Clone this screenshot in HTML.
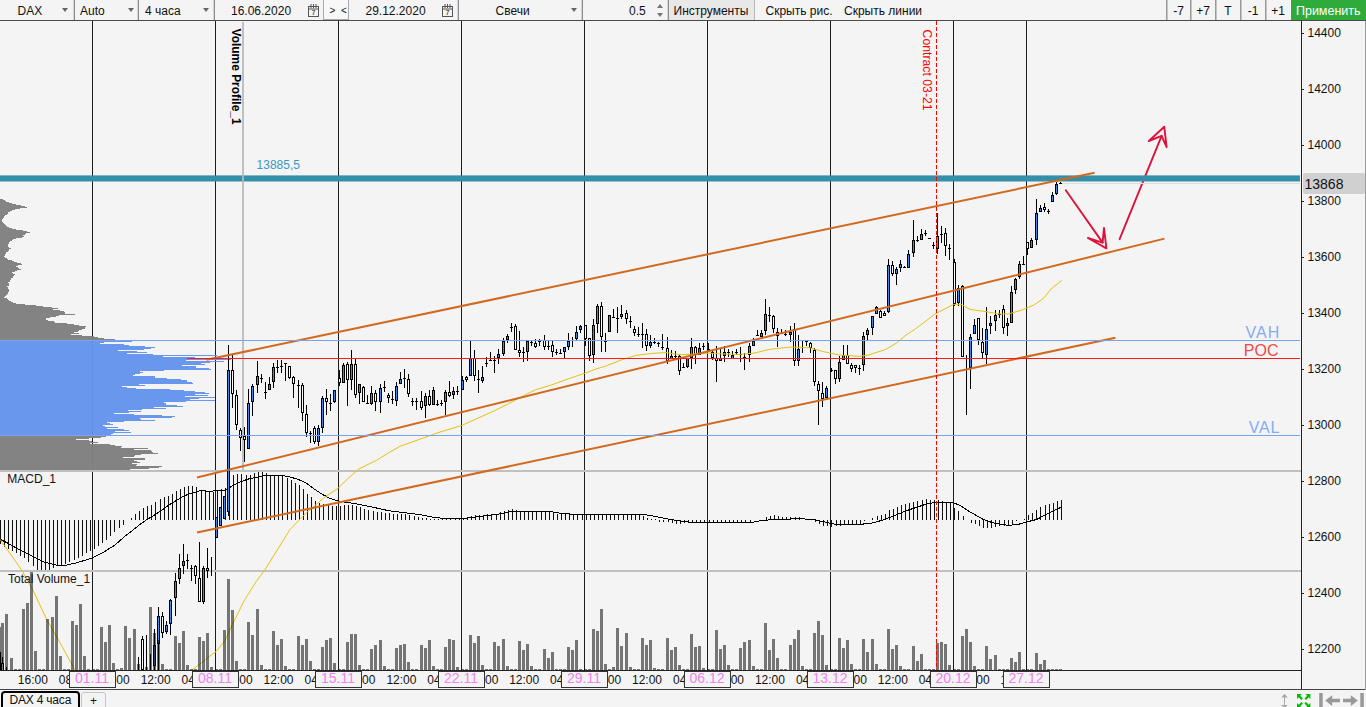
<!DOCTYPE html>
<html lang="ru"><head><meta charset="utf-8"><title>DAX 4 часа</title>
<style>
html,body{margin:0;padding:0}
body{width:1366px;height:707px;overflow:hidden;background:#f4f4f4;font-family:"Liberation Sans",Arial,sans-serif;font-size:12px;color:#111;position:relative}
#chart{position:absolute;left:0;top:0}
#tb{position:absolute;left:0;top:0;width:1366px;height:20px;border-bottom:1px solid #4a4a4a;background:#f4f4f4;z-index:2}
#tb span{position:absolute;top:0;height:20px;line-height:23px;white-space:nowrap}
#tb i{position:absolute;top:0;width:1px;height:20px;background:#8c8c8c;box-shadow:-1px 0 0 #d4d4d4}
#tb b{position:absolute;top:8px;width:0;height:0;border-left:3px solid transparent;border-right:3px solid transparent;border-top:4px solid #666}
#tb .btn{text-align:center;border-left:1px solid #9a9a9a;box-shadow:inset 1px 0 0 #c4c4c4}
#tabs{position:absolute;left:0;top:690px;width:1366px;height:17px}
#tabs .t1{position:absolute;left:0.8px;top:1px;width:75px;letter-spacing:-0.2px;height:20px;border:2px solid #000;border-radius:4px;line-height:14px;text-align:center;font-size:12px}
#tabs .t2{position:absolute;left:81px;top:2px;width:23px;height:20px;border:1px solid #c4c4c4;border-radius:3px;line-height:16px;text-align:center;font-size:12px}
</style></head>
<body>
<svg id="chart" width="1366" height="707" viewBox="0 0 1366 707">
<defs><clipPath id="cp"><rect x="0" y="21" width="1301" height="649"/></clipPath></defs>
<g shape-rendering="crispEdges" fill="#1c1c1c">
<rect x="92" y="21" width="1" height="650"/>
<rect x="215" y="21" width="1" height="650"/>
<rect x="338" y="21" width="1" height="650"/>
<rect x="461" y="21" width="1" height="650"/>
<rect x="584" y="21" width="1" height="650"/>
<rect x="707" y="21" width="1" height="650"/>
<rect x="830" y="21" width="1" height="650"/>
<rect x="953" y="21" width="1" height="650"/>
<rect x="1026" y="21" width="1" height="650"/>
</g>
<g shape-rendering="crispEdges" fill="#c0c0c0">
<rect x="0" y="470" width="1301" height="2"/>
<rect x="0" y="570" width="1301" height="2"/>
<rect x="242" y="22" width="2" height="448"/>
</g>
<g shape-rendering="crispEdges" opacity="0.97">
<path fill="#808080" d="M0 199 h3 v1 H0zM0 200 h5 v1 H0zM0 201 h6 v1 H0zM0 202 h9 v1 H0zM0 203 h12 v1 H0zM0 204 h16 v1 H0zM0 205 h21 v1 H0zM0 206 h25 v1 H0zM0 207 h27 v1 H0zM0 208 h20 v1 H0zM0 209 h15 v1 H0zM0 210 h12 v1 H0zM0 211 h10 v1 H0zM0 212 h8 v1 H0zM0 213 h8 v1 H0zM0 214 h7 v1 H0zM0 215 h5 v1 H0zM0 216 h4 v1 H0zM0 217 h4 v1 H0zM0 218 h3 v1 H0zM0 219 h2 v1 H0zM0 220 h2 v1 H0zM0 221 h2 v1 H0zM0 222 h3 v1 H0zM0 223 h4 v1 H0zM0 224 h5 v1 H0zM0 225 h6 v1 H0zM0 226 h7 v1 H0zM0 227 h9 v1 H0zM0 228 h12 v1 H0zM0 229 h16 v1 H0zM0 230 h23 v1 H0zM0 231 h27 v1 H0zM0 232 h30 v1 H0zM0 233 h26 v1 H0zM0 234 h25 v1 H0zM0 235 h23 v1 H0zM0 236 h24 v1 H0zM0 237 h22 v1 H0zM0 238 h16 v1 H0zM0 239 h13 v1 H0zM0 240 h12 v1 H0zM0 241 h10 v1 H0zM0 242 h9 v1 H0zM0 243 h9 v1 H0zM0 244 h8 v1 H0zM0 245 h8 v1 H0zM0 246 h8 v1 H0zM0 247 h9 v1 H0zM0 248 h11 v1 H0zM0 249 h9 v1 H0zM0 250 h9 v1 H0zM0 251 h8 v1 H0zM0 252 h6 v1 H0zM0 253 h6 v1 H0zM0 254 h5 v1 H0zM0 255 h5 v1 H0zM0 256 h4 v1 H0zM0 257 h5 v1 H0zM0 258 h7 v1 H0zM0 259 h8 v1 H0zM0 260 h12 v1 H0zM0 261 h14 v1 H0zM0 262 h17 v1 H0zM0 263 h21 v1 H0zM0 264 h22 v1 H0zM0 265 h18 v1 H0zM0 266 h16 v1 H0zM0 267 h18 v1 H0zM0 268 h19 v1 H0zM0 269 h21 v1 H0zM0 270 h17 v1 H0zM0 271 h15 v1 H0zM0 272 h12 v1 H0zM0 273 h13 v1 H0zM0 274 h15 v1 H0zM0 275 h14 v1 H0zM0 276 h13 v1 H0zM0 277 h13 v1 H0zM0 278 h11 v1 H0zM0 279 h11 v1 H0zM0 280 h10 v1 H0zM0 281 h10 v1 H0zM0 282 h8 v1 H0zM0 283 h9 v1 H0zM0 284 h9 v1 H0zM0 285 h9 v1 H0zM0 286 h7 v1 H0zM0 287 h8 v1 H0zM0 288 h8 v1 H0zM0 289 h9 v1 H0zM0 290 h9 v1 H0zM0 291 h9 v1 H0zM0 292 h8 v1 H0zM0 293 h8 v1 H0zM0 294 h7 v1 H0zM0 295 h6 v1 H0zM0 296 h5 v1 H0zM0 297 h4 v1 H0zM0 298 h7 v1 H0zM0 299 h8 v1 H0zM0 300 h9 v1 H0zM0 301 h11 v1 H0zM0 302 h13 v1 H0zM0 303 h16 v1 H0zM0 304 h25 v1 H0zM0 305 h36 v1 H0zM0 306 h43 v1 H0zM0 307 h52 v1 H0zM0 308 h58 v1 H0zM0 309 h53 v1 H0zM0 310 h60 v1 H0zM0 311 h64 v1 H0zM0 312 h65 v1 H0zM0 313 h65 v1 H0zM0 314 h75 v1 H0zM0 315 h59 v1 H0zM0 316 h56 v1 H0zM0 317 h50 v1 H0zM0 318 h46 v1 H0zM0 319 h46 v1 H0zM0 320 h48 v1 H0zM0 321 h54 v1 H0zM0 322 h55 v1 H0zM0 323 h67 v1 H0zM0 324 h74 v1 H0zM0 325 h79 v1 H0zM0 326 h86 v1 H0zM0 327 h85 v1 H0zM0 328 h85 v1 H0zM0 329 h82 v1 H0zM0 330 h79 v1 H0zM0 331 h78 v1 H0zM0 332 h74 v1 H0zM0 333 h79 v1 H0zM0 334 h71 v1 H0zM0 335 h82 v1 H0zM0 336 h94 v1 H0zM0 337 h98 v1 H0zM0 338 h104 v1 H0zM0 339 h115 v1 H0z"/>
<path fill="#6495ed" d="M0 341 h132 v1 H0zM0 342 h104 v1 H0zM0 343 h100 v1 H0zM0 344 h124 v1 H0zM0 345 h129 v1 H0zM0 346 h145 v1 H0zM0 347 h155 v1 H0zM0 348 h151 v1 H0zM0 349 h144 v1 H0zM0 350 h118 v1 H0zM0 351 h137 v1 H0zM0 352 h147 v1 H0zM0 353 h127 v1 H0zM0 354 h153 v1 H0zM0 355 h217 v1 H0zM0 356 h163 v1 H0zM0 357 h195 v1 H0zM0 358 h200 v1 H0zM0 359 h231 v1 H0zM0 360 h186 v1 H0zM0 361 h224 v1 H0zM0 362 h210 v1 H0zM0 363 h201 v1 H0zM0 364 h205 v1 H0zM0 365 h182 v1 H0zM0 366 h196 v1 H0zM0 367 h196 v1 H0zM0 368 h209 v1 H0zM0 369 h211 v1 H0zM0 370 h164 v1 H0zM0 371 h140 v1 H0zM0 372 h143 v1 H0zM0 373 h140 v1 H0zM0 374 h135 v1 H0zM0 375 h133 v1 H0zM0 376 h155 v1 H0zM0 377 h155 v1 H0zM0 378 h167 v1 H0zM0 379 h181 v1 H0zM0 380 h187 v1 H0zM0 381 h187 v1 H0zM0 382 h192 v1 H0zM0 383 h193 v1 H0zM0 384 h139 v1 H0zM0 385 h145 v1 H0zM0 386 h122 v1 H0zM0 387 h127 v1 H0zM0 388 h136 v1 H0zM0 389 h170 v1 H0zM0 390 h184 v1 H0zM0 391 h195 v1 H0zM0 392 h205 v1 H0zM0 393 h209 v1 H0zM0 394 h195 v1 H0zM0 395 h208 v1 H0zM0 396 h185 v1 H0zM0 397 h215 v1 H0zM0 398 h199 v1 H0zM0 399 h190 v1 H0zM0 400 h215 v1 H0zM0 401 h186 v1 H0zM0 402 h164 v1 H0zM0 403 h166 v1 H0zM0 404 h166 v1 H0zM0 405 h177 v1 H0zM0 406 h183 v1 H0zM0 407 h154 v1 H0zM0 408 h166 v1 H0zM0 409 h142 v1 H0zM0 410 h128 v1 H0zM0 411 h141 v1 H0zM0 412 h129 v1 H0zM0 413 h114 v1 H0zM0 414 h134 v1 H0zM0 415 h162 v1 H0zM0 416 h175 v1 H0zM0 417 h172 v1 H0zM0 418 h140 v1 H0zM0 419 h141 v1 H0zM0 420 h155 v1 H0zM0 421 h124 v1 H0zM0 422 h107 v1 H0zM0 423 h110 v1 H0zM0 424 h113 v1 H0zM0 425 h103 v1 H0zM0 426 h105 v1 H0zM0 427 h118 v1 H0zM0 428 h107 v1 H0zM0 429 h124 v1 H0zM0 430 h129 v1 H0zM0 431 h115 v1 H0zM0 432 h131 v1 H0zM0 433 h113 v1 H0zM0 434 h111 v1 H0zM0 435 h122 v1 H0z"/>
<path fill="#808080" d="M0 436 h106 v1 H0zM0 437 h101 v1 H0zM0 438 h89 v1 H0zM0 439 h76 v1 H0zM0 440 h89 v1 H0zM0 441 h92 v1 H0zM0 442 h98 v1 H0zM0 443 h90 v1 H0zM0 444 h110 v1 H0zM0 445 h115 v1 H0zM0 446 h122 v1 H0zM0 447 h121 v1 H0zM0 448 h148 v1 H0zM0 449 h134 v1 H0zM0 450 h151 v1 H0zM0 451 h152 v1 H0zM0 452 h153 v1 H0zM0 453 h158 v1 H0zM0 454 h141 v1 H0zM0 455 h135 v1 H0zM0 456 h134 v1 H0zM0 457 h123 v1 H0zM0 458 h145 v1 H0zM0 459 h145 v1 H0zM0 460 h134 v1 H0zM0 461 h137 v1 H0zM0 462 h140 v1 H0zM0 463 h132 v1 H0zM0 464 h137 v1 H0zM0 465 h136 v1 H0zM0 466 h162 v1 H0zM0 467 h159 v1 H0zM0 468 h149 v1 H0zM0 469 h130 v1 H0z"/>
</g>
<g clip-path="url(#cp)">
<g shape-rendering="crispEdges" fill="#111">
<path d="M0 520 h1 V544 h-1zM4 520 h1 V547 h-1zM8 520 h1 V549 h-1zM12 520 h1 V551 h-1zM16 520 h1 V553 h-1zM20 520 h1 V556 h-1zM24 520 h1 V558 h-1zM28 520 h1 V562 h-1zM33 520 h1 V566 h-1zM37 520 h1 V570 h-1zM41 520 h1 V570 h-1zM45 520 h1 V570 h-1zM49 520 h1 V570 h-1zM53 520 h1 V568 h-1zM57 520 h1 V566 h-1zM61 520 h1 V565 h-1zM65 520 h1 V564 h-1zM69 520 h1 V562 h-1zM74 520 h1 V560 h-1zM78 520 h1 V558 h-1zM82 520 h1 V556 h-1zM86 520 h1 V553 h-1zM90 520 h1 V551 h-1zM94 520 h1 V549 h-1zM98 520 h1 V546 h-1zM102 520 h1 V543 h-1zM106 520 h1 V540 h-1zM110 520 h1 V536 h-1zM114 520 h1 V532 h-1zM119 520 h1 V528 h-1zM123 520 h1 V525 h-1zM131 518 h1 V520 h-1zM135 514 h1 V520 h-1zM139 511 h1 V520 h-1zM143 508 h1 V520 h-1zM147 506 h1 V520 h-1zM151 505 h1 V520 h-1zM155 502 h1 V520 h-1zM160 499 h1 V520 h-1zM164 497 h1 V520 h-1zM168 496 h1 V520 h-1zM172 494 h1 V520 h-1zM176 491 h1 V520 h-1zM180 489 h1 V520 h-1zM184 487 h1 V520 h-1zM188 486 h1 V520 h-1zM192 486 h1 V520 h-1zM196 487 h1 V520 h-1zM201 490 h1 V520 h-1zM205 490 h1 V520 h-1zM209 492 h1 V520 h-1zM213 492 h1 V520 h-1zM217 490 h1 V520 h-1zM221 489 h1 V520 h-1zM225 488 h1 V520 h-1zM229 481 h1 V520 h-1zM233 475 h1 V520 h-1zM237 474 h1 V520 h-1zM241 474 h1 V520 h-1zM246 475 h1 V520 h-1zM250 475 h1 V520 h-1zM254 473 h1 V520 h-1zM258 472 h1 V520 h-1zM262 472 h1 V520 h-1zM266 473 h1 V520 h-1zM270 475 h1 V520 h-1zM274 475 h1 V520 h-1zM278 475 h1 V520 h-1zM282 476 h1 V520 h-1zM287 478 h1 V520 h-1zM291 480 h1 V520 h-1zM295 483 h1 V520 h-1zM299 485 h1 V520 h-1zM303 489 h1 V520 h-1zM307 494 h1 V520 h-1zM311 497 h1 V520 h-1zM315 501 h1 V520 h-1zM319 503 h1 V520 h-1zM323 504 h1 V520 h-1zM328 505 h1 V520 h-1zM332 506 h1 V520 h-1zM336 506 h1 V520 h-1zM340 506 h1 V520 h-1zM344 505 h1 V520 h-1zM348 505 h1 V520 h-1zM352 505 h1 V520 h-1zM356 506 h1 V520 h-1zM360 507 h1 V520 h-1zM364 509 h1 V520 h-1zM368 510 h1 V520 h-1zM373 511 h1 V520 h-1zM377 512 h1 V520 h-1zM381 512 h1 V520 h-1zM385 513 h1 V520 h-1zM389 513 h1 V520 h-1zM393 514 h1 V520 h-1zM397 514 h1 V520 h-1zM401 514 h1 V520 h-1zM405 514 h1 V520 h-1zM409 515 h1 V520 h-1zM414 516 h1 V520 h-1zM418 517 h1 V520 h-1zM422 518 h1 V520 h-1zM426 518 h1 V520 h-1zM430 519 h1 V520 h-1zM434 519 h1 V520 h-1zM438 519 h1 V520 h-1zM442 519 h1 V520 h-1zM446 519 h1 V520 h-1zM450 519 h1 V520 h-1zM455 519 h1 V520 h-1zM459 519 h1 V520 h-1zM463 519 h1 V520 h-1zM467 517 h1 V520 h-1zM471 516 h1 V520 h-1zM475 515 h1 V520 h-1zM479 515 h1 V520 h-1zM483 515 h1 V520 h-1zM487 514 h1 V520 h-1zM491 514 h1 V520 h-1zM496 514 h1 V520 h-1zM500 512 h1 V520 h-1zM504 511 h1 V520 h-1zM508 510 h1 V520 h-1zM512 509 h1 V520 h-1zM516 510 h1 V520 h-1zM520 511 h1 V520 h-1zM524 511 h1 V520 h-1zM528 511 h1 V520 h-1zM532 512 h1 V520 h-1zM536 512 h1 V520 h-1zM541 512 h1 V520 h-1zM545 512 h1 V520 h-1zM549 512 h1 V520 h-1zM553 513 h1 V520 h-1zM557 514 h1 V520 h-1zM561 514 h1 V520 h-1zM565 514 h1 V520 h-1zM569 514 h1 V520 h-1zM573 514 h1 V520 h-1zM577 514 h1 V520 h-1zM582 514 h1 V520 h-1zM586 514 h1 V520 h-1zM590 515 h1 V520 h-1zM594 515 h1 V520 h-1zM598 515 h1 V520 h-1zM602 514 h1 V520 h-1zM606 514 h1 V520 h-1zM610 514 h1 V520 h-1zM614 514 h1 V520 h-1zM618 514 h1 V520 h-1zM623 514 h1 V520 h-1zM627 514 h1 V520 h-1zM631 514 h1 V520 h-1zM635 514 h1 V520 h-1zM639 514 h1 V520 h-1zM643 516 h1 V520 h-1zM647 518 h1 V520 h-1zM651 519 h1 V520 h-1zM655 519 h1 V520 h-1zM659 520 h1 V522 h-1zM663 520 h1 V522 h-1zM668 520 h1 V522 h-1zM672 520 h1 V523 h-1zM676 520 h1 V524 h-1zM680 520 h1 V524 h-1zM684 520 h1 V523 h-1zM688 520 h1 V522 h-1zM692 520 h1 V522 h-1zM696 520 h1 V522 h-1zM700 520 h1 V522 h-1zM704 520 h1 V522 h-1zM709 520 h1 V522 h-1zM713 520 h1 V522 h-1zM717 520 h1 V522 h-1zM721 520 h1 V522 h-1zM725 520 h1 V522 h-1zM729 520 h1 V522 h-1zM733 520 h1 V522 h-1zM737 520 h1 V522 h-1zM741 520 h1 V522 h-1zM745 520 h1 V522 h-1zM750 520 h1 V522 h-1zM766 517 h1 V520 h-1zM770 516 h1 V520 h-1zM774 515 h1 V520 h-1zM778 516 h1 V520 h-1zM782 517 h1 V520 h-1zM786 517 h1 V520 h-1zM790 517 h1 V520 h-1zM795 517 h1 V520 h-1zM799 517 h1 V520 h-1zM815 520 h1 V522 h-1zM819 520 h1 V524 h-1zM823 520 h1 V526 h-1zM827 520 h1 V526 h-1zM831 520 h1 V527 h-1zM836 520 h1 V526 h-1zM840 520 h1 V526 h-1zM844 520 h1 V525 h-1zM848 520 h1 V525 h-1zM852 520 h1 V525 h-1zM856 520 h1 V525 h-1zM860 520 h1 V525 h-1zM864 520 h1 V521 h-1zM872 518 h1 V520 h-1zM877 516 h1 V520 h-1zM881 515 h1 V520 h-1zM885 514 h1 V520 h-1zM889 510 h1 V520 h-1zM893 509 h1 V520 h-1zM897 507 h1 V520 h-1zM901 505 h1 V520 h-1zM905 504 h1 V520 h-1zM909 503 h1 V520 h-1zM913 502 h1 V520 h-1zM917 501 h1 V520 h-1zM922 500 h1 V520 h-1zM926 499 h1 V520 h-1zM930 500 h1 V520 h-1zM934 500 h1 V520 h-1zM938 500 h1 V520 h-1zM942 501 h1 V520 h-1zM946 502 h1 V520 h-1zM950 503 h1 V520 h-1zM954 508 h1 V520 h-1zM958 511 h1 V520 h-1zM963 516 h1 V520 h-1zM971 520 h1 V523 h-1zM975 520 h1 V524 h-1zM979 520 h1 V526 h-1zM983 520 h1 V528 h-1zM987 520 h1 V528 h-1zM991 520 h1 V528 h-1zM995 520 h1 V527 h-1zM999 520 h1 V526 h-1zM1004 520 h1 V526 h-1zM1008 520 h1 V526 h-1zM1012 520 h1 V525 h-1zM1016 520 h1 V521 h-1zM1024 519 h1 V520 h-1zM1028 515 h1 V520 h-1zM1032 513 h1 V520 h-1zM1036 510 h1 V520 h-1zM1040 507 h1 V520 h-1zM1045 505 h1 V520 h-1zM1049 504 h1 V520 h-1zM1053 503 h1 V520 h-1zM1057 501 h1 V520 h-1zM1061 500 h1 V520 h-1z"/>
</g>
<polyline fill="none" stroke="#000" stroke-width="1" shape-rendering="crispEdges" points="0,539.3 8.8,543.7 20.6,550.4 32.4,556.2 44.1,562 55.9,565 64.7,565.4 76.5,562.9 88.2,559.2 92.5,557.7 102.9,552.6 114.7,545.2 126.5,534.9 132.4,530.5 139.7,524.6 147,519.5 154.4,515 161.8,510.2 169.1,504.8 176.5,500.4 183.8,496 191.2,493.3 200,490.8 208.8,491.2 217.6,490.8 226.5,489.8 232.4,485.6 239.7,482 248.5,479 258.8,476.8 266.2,475 279.4,475 288.2,476.5 297,479 305.9,482.7 314.7,489.3 322,494.2 329.4,498.1 335.3,500 341.2,501.5 353,503.3 364.7,505.5 376.5,508 388.2,510.6 400,512.1 411.8,513.6 422,515 433.8,517.3 445.6,518.7 461.8,518.7 473.5,517.3 488.2,515.4 500,513.9 508.8,512.1 516.2,511 525,511.4 551.5,511.8 564.7,513.9 585.3,514.3 600,515 614.7,514.3 641.2,514.3 650,515.4 661.8,517.7 670.6,519.5 682.4,521.2 691.2,522.4 751.5,522.4 761.8,520.6 773.5,519.5 800,518.7 813.2,519.5 823.5,521.7 830.9,523.6 838.2,524.6 861.8,524.2 872,523.1 882.4,520.2 894.1,515.8 905.9,510.9 917.6,507 926.5,504 933.8,502.6 953,502.6 960.3,505.5 970.3,512.1 983.5,519.5 992.4,522.7 1008.5,525.4 1018.8,524.2 1026.2,522.1 1036.5,519.5 1045.3,515 1054.1,510.6 1061.6,507"/>
<g shape-rendering="crispEdges">
<path fill="#000" d="M138 657 h1 V670 h-1zM146 635 h1 V670 h-1zM150 654 h1 V670 h-1zM966 355 h1 V415 h-1zM211 557 h1 V576 h-1zM142 636 h1 V670 h-1zM141 639 h3 V670 h-3zM154 629 h1 V670 h-1zM153 645 h3 V666 h-3zM158 607 h1 V670 h-1zM157 616 h3 V644 h-3zM162 612 h1 V638 h-1zM161 616 h3 V633 h-3zM166 621 h1 V634 h-1zM165 625 h3 V632 h-3zM170 599 h1 V635 h-1zM169 600 h3 V624 h-3zM175 573 h1 V616 h-1zM174 581 h3 V598 h-3zM179 554 h1 V584 h-1zM178 568 h3 V579 h-3zM183 544 h1 V574 h-1zM182 561 h3 V566 h-3zM187 554 h1 V569 h-1zM186 560 h3 v1 h-3zM191 565 h1 V581 h-1zM190 568 h3 v1 h-3zM195 565 h1 V584 h-1zM194 566 h3 V576 h-3zM199 542 h1 V602 h-1zM198 578 h3 V602 h-3zM203 566 h1 V604 h-1zM202 568 h3 V602 h-3zM207 548 h1 V578 h-1zM206 568 h3 V571 h-3zM216 517 h1 V538 h-1zM215 517 h3 V538 h-3zM220 507 h1 V526 h-1zM219 507 h3 V526 h-3zM224 496 h1 V519 h-1zM223 496 h3 V519 h-3zM228 345 h1 V516 h-1zM227 370 h3 V512 h-3zM232 355 h1 V408 h-1zM231 370 h3 V394 h-3zM236 390 h1 V430 h-1zM235 395 h3 V425 h-3zM240 428 h1 V451 h-1zM239 430 h3 V438 h-3zM244 427 h1 V462 h-1zM243 436 h3 V440 h-3zM248 389 h1 V449 h-1zM247 403 h3 V449 h-3zM252 384 h1 V416 h-1zM251 386 h3 V402 h-3zM257 361 h1 V393 h-1zM256 376 h3 V385 h-3zM261 374 h1 V383 h-1zM260 378 h3 v1 h-3zM265 382 h1 V399 h-1zM264 392 h3 v1 h-3zM269 377 h1 V390 h-1zM268 384 h3 V390 h-3zM273 363 h1 V388 h-1zM272 367 h3 V382 h-3zM277 360 h1 V373 h-1zM276 367 h3 v1 h-3zM281 360 h1 V373 h-1zM280 366 h3 v1 h-3zM285 363 h1 V381 h-1zM284 363 h3 v1 h-3zM289 366 h1 V379 h-1zM288 366 h3 V378 h-3zM293 376 h1 V398 h-1zM292 377 h3 V384 h-3zM298 380 h1 V408 h-1zM297 385 h3 v1 h-3zM302 383 h1 V421 h-1zM301 385 h3 V413 h-3zM306 405 h1 V437 h-1zM305 414 h3 V433 h-3zM310 431 h1 V443 h-1zM309 433 h3 v1 h-3zM314 426 h1 V444 h-1zM313 428 h3 V442 h-3zM318 425 h1 V446 h-1zM317 428 h3 V442 h-3zM322 396 h1 V433 h-1zM321 398 h3 V428 h-3zM326 389 h1 V415 h-1zM325 398 h3 V402 h-3zM330 394 h1 V411 h-1zM329 403 h3 v1 h-3zM334 390 h1 V403 h-1zM333 390 h3 V402 h-3zM339 370 h1 V386 h-1zM338 378 h3 V383 h-3zM343 363 h1 V383 h-1zM342 365 h3 V383 h-3zM347 362 h1 V406 h-1zM346 364 h3 V380 h-3zM351 350 h1 V390 h-1zM350 364 h3 V380 h-3zM355 358 h1 V398 h-1zM354 364 h3 V395 h-3zM359 384 h1 V404 h-1zM358 384 h3 V393 h-3zM363 386 h1 V402 h-1zM362 387 h3 V402 h-3zM367 395 h1 V404 h-1zM366 403 h3 v1 h-3zM371 386 h1 V405 h-1zM370 393 h3 V404 h-3zM375 390 h1 V411 h-1zM374 393 h3 V402 h-3zM380 384 h1 V413 h-1zM379 388 h3 V402 h-3zM384 381 h1 V392 h-1zM383 387 h3 v1 h-3zM388 393 h1 V403 h-1zM387 395 h3 V398 h-3zM392 391 h1 V404 h-1zM391 399 h3 v1 h-3zM396 382 h1 V406 h-1zM395 386 h3 V401 h-3zM400 372 h1 V384 h-1zM399 379 h3 V384 h-3zM404 369 h1 V388 h-1zM403 378 h3 v1 h-3zM408 374 h1 V397 h-1zM407 379 h3 V394 h-3zM412 398 h1 V406 h-1zM411 401 h3 v1 h-3zM416 398 h1 V410 h-1zM415 401 h3 v1 h-3zM421 391 h1 V410 h-1zM420 401 h3 V408 h-3zM425 393 h1 V418 h-1zM424 396 h3 V406 h-3zM429 390 h1 V406 h-1zM428 396 h3 V405 h-3zM433 387 h1 V405 h-1zM432 390 h3 V405 h-3zM437 400 h1 V406 h-1zM436 404 h3 v1 h-3zM441 400 h1 V406 h-1zM440 403 h3 v1 h-3zM445 390 h1 V415 h-1zM444 392 h3 V402 h-3zM449 381 h1 V397 h-1zM448 392 h3 V396 h-3zM453 387 h1 V399 h-1zM452 391 h3 V395 h-3zM457 386 h1 V395 h-1zM456 391 h3 v1 h-3zM462 376 h1 V390 h-1zM461 380 h3 V390 h-3zM466 376 h1 V382 h-1zM465 377 h3 V380 h-3zM470 340 h1 V376 h-1zM469 358 h3 V376 h-3zM474 350 h1 V381 h-1zM473 358 h3 V376 h-3zM478 370 h1 V393 h-1zM477 379 h3 v1 h-3zM482 366 h1 V383 h-1zM481 377 h3 V381 h-3zM486 357 h1 V367 h-1zM485 363 h3 v1 h-3zM490 352 h1 V361 h-1zM489 360 h3 v1 h-3zM494 356 h1 V373 h-1zM493 360 h3 v1 h-3zM498 349 h1 V364 h-1zM497 354 h3 V358 h-3zM503 338 h1 V356 h-1zM502 341 h3 V354 h-3zM507 334 h1 V343 h-1zM506 336 h3 V340 h-3zM511 323 h1 V332 h-1zM510 327 h3 v1 h-3zM515 324 h1 V350 h-1zM514 326 h3 V350 h-3zM519 331 h1 V357 h-1zM518 350 h3 V353 h-3zM523 347 h1 V362 h-1zM522 352 h3 v1 h-3zM527 341 h1 V361 h-1zM526 341 h3 V352 h-3zM531 340 h1 V346 h-1zM530 342 h3 v1 h-3zM535 339 h1 V348 h-1zM534 343 h3 V347 h-3zM539 339 h1 V346 h-1zM538 341 h3 v1 h-3zM544 335 h1 V350 h-1zM543 340 h3 V347 h-3zM548 340 h1 V350 h-1zM547 346 h3 v1 h-3zM552 340 h1 V357 h-1zM551 345 h3 V352 h-3zM556 349 h1 V355 h-1zM555 352 h3 v1 h-3zM560 349 h1 V354 h-1zM559 353 h3 v1 h-3zM564 347 h1 V358 h-1zM563 347 h3 V352 h-3zM568 333 h1 V350 h-1zM567 341 h3 V347 h-3zM572 337 h1 V347 h-1zM571 340 h3 v1 h-3zM576 326 h1 V340 h-1zM575 332 h3 V339 h-3zM580 325 h1 V333 h-1zM579 326 h3 V330 h-3zM585 325 h1 V346 h-1zM584 325 h3 V339 h-3zM589 338 h1 V361 h-1zM588 338 h3 V356 h-3zM593 319 h1 V363 h-1zM592 325 h3 V355 h-3zM597 304 h1 V333 h-1zM596 306 h3 V324 h-3zM601 302 h1 V352 h-1zM600 306 h3 V337 h-3zM605 333 h1 V352 h-1zM604 341 h3 v1 h-3zM609 315 h1 V332 h-1zM608 315 h3 V332 h-3zM613 309 h1 V318 h-1zM612 317 h3 v1 h-3zM617 307 h1 V333 h-1zM616 318 h3 v1 h-3zM621 305 h1 V319 h-1zM620 314 h3 V317 h-3zM626 310 h1 V324 h-1zM625 313 h3 V319 h-3zM630 316 h1 V328 h-1zM629 321 h3 v1 h-3zM634 326 h1 V336 h-1zM633 329 h3 V333 h-3zM638 327 h1 V337 h-1zM637 334 h3 v1 h-3zM642 323 h1 V348 h-1zM641 334 h3 v1 h-3zM646 329 h1 V351 h-1zM645 334 h3 V346 h-3zM650 335 h1 V348 h-1zM649 342 h3 V346 h-3zM654 338 h1 V344 h-1zM653 342 h3 v1 h-3zM658 342 h1 V347 h-1zM657 343 h3 v1 h-3zM662 334 h1 V350 h-1zM661 347 h3 v1 h-3zM667 337 h1 V364 h-1zM666 348 h3 V361 h-3zM671 350 h1 V359 h-1zM670 356 h3 V359 h-3zM675 351 h1 V358 h-1zM674 356 h3 v1 h-3zM679 355 h1 V375 h-1zM678 356 h3 V371 h-3zM683 363 h1 V368 h-1zM682 367 h3 v1 h-3zM687 358 h1 V368 h-1zM686 358 h3 V367 h-3zM691 338 h1 V369 h-1zM690 347 h3 V358 h-3zM695 346 h1 V364 h-1zM694 347 h3 V355 h-3zM699 343 h1 V355 h-1zM698 348 h3 V355 h-3zM703 343 h1 V350 h-1zM702 346 h3 v1 h-3zM708 343 h1 V351 h-1zM707 349 h3 v1 h-3zM712 351 h1 V360 h-1zM711 352 h3 V358 h-3zM716 346 h1 V382 h-1zM715 358 h3 V361 h-3zM720 349 h1 V361 h-1zM719 358 h3 V361 h-3zM724 346 h1 V362 h-1zM723 352 h3 V356 h-3zM728 349 h1 V357 h-1zM727 352 h3 v1 h-3zM732 351 h1 V359 h-1zM731 355 h3 V359 h-3zM736 349 h1 V355 h-1zM735 352 h3 v1 h-3zM740 347 h1 V362 h-1zM739 354 h3 v1 h-3zM744 353 h1 V370 h-1zM743 357 h3 v1 h-3zM749 343 h1 V362 h-1zM748 346 h3 V355 h-3zM753 338 h1 V346 h-1zM752 341 h3 V346 h-3zM757 330 h1 V336 h-1zM756 335 h3 v1 h-3zM761 330 h1 V337 h-1zM760 333 h3 V337 h-3zM765 299 h1 V335 h-1zM764 314 h3 V331 h-3zM769 307 h1 V322 h-1zM768 315 h3 v1 h-3zM773 315 h1 V333 h-1zM772 316 h3 V329 h-3zM777 328 h1 V347 h-1zM776 332 h3 V336 h-3zM781 329 h1 V334 h-1zM780 333 h3 v1 h-3zM785 330 h1 V336 h-1zM784 334 h3 v1 h-3zM790 326 h1 V342 h-1zM789 332 h3 V335 h-3zM794 323 h1 V366 h-1zM793 329 h3 V361 h-3zM798 335 h1 V366 h-1zM797 349 h3 V361 h-3zM802 341 h1 V353 h-1zM801 347 h3 v1 h-3zM806 341 h1 V346 h-1zM805 341 h3 v1 h-3zM810 342 h1 V353 h-1zM809 343 h3 V348 h-3zM814 348 h1 V386 h-1zM813 350 h3 V382 h-3zM818 381 h1 V425 h-1zM817 384 h3 V391 h-3zM822 382 h1 V407 h-1zM821 393 h3 V399 h-3zM826 386 h1 V398 h-1zM825 388 h3 V398 h-3zM831 368 h1 V372 h-1zM830 370 h3 v1 h-3zM835 370 h1 V384 h-1zM834 370 h3 V379 h-3zM839 356 h1 V382 h-1zM838 362 h3 V379 h-3zM843 345 h1 V360 h-1zM842 355 h3 V360 h-3zM847 345 h1 V364 h-1zM846 355 h3 V364 h-3zM851 363 h1 V372 h-1zM850 365 h3 V369 h-3zM855 365 h1 V373 h-1zM854 365 h3 V368 h-3zM859 365 h1 V375 h-1zM858 368 h3 v1 h-3zM863 332 h1 V371 h-1zM862 336 h3 V365 h-3zM867 328 h1 V340 h-1zM866 330 h3 V335 h-3zM872 316 h1 V335 h-1zM871 316 h3 V328 h-3zM876 306 h1 V314 h-1zM875 307 h3 V314 h-3zM880 310 h1 V318 h-1zM879 311 h3 V318 h-3zM884 311 h1 V316 h-1zM883 313 h3 V316 h-3zM888 259 h1 V313 h-1zM887 265 h3 V312 h-3zM892 261 h1 V276 h-1zM891 265 h3 V274 h-3zM896 267 h1 V285 h-1zM895 269 h3 V274 h-3zM900 260 h1 V272 h-1zM899 264 h3 V268 h-3zM904 266 h1 V268 h-1zM903 267 h3 v1 h-3zM908 250 h1 V268 h-1zM907 254 h3 V268 h-3zM913 220 h1 V257 h-1zM912 240 h3 V253 h-3zM917 236 h1 V242 h-1zM916 240 h3 v1 h-3zM921 229 h1 V240 h-1zM920 234 h3 V240 h-3zM925 230 h1 V236 h-1zM924 233 h3 v1 h-3zM929 238 h1 V239 h-1zM928 238 h3 v1 h-3zM933 242 h1 V249 h-1zM932 245 h3 v1 h-3zM937 213 h1 V254 h-1zM936 236 h3 V249 h-3zM941 226 h1 V243 h-1zM940 234 h3 v1 h-3zM945 228 h1 V256 h-1zM944 233 h3 V246 h-3zM949 244 h1 V260 h-1zM948 248 h3 v1 h-3zM954 259 h1 V306 h-1zM953 262 h3 V304 h-3zM958 285 h1 V306 h-1zM957 288 h3 V303 h-3zM962 285 h1 V357 h-1zM961 286 h3 V357 h-3zM970 334 h1 V389 h-1zM969 337 h3 V368 h-3zM974 319 h1 V334 h-1zM973 325 h3 V334 h-3zM978 318 h1 V345 h-1zM977 318 h3 V340 h-3zM982 328 h1 V358 h-1zM981 342 h3 V353 h-3zM986 307 h1 V364 h-1zM985 329 h3 V355 h-3zM990 316 h1 V334 h-1zM989 323 h3 V326 h-3zM995 310 h1 V331 h-1zM994 315 h3 V321 h-3zM999 310 h1 V318 h-1zM998 314 h3 v1 h-3zM1003 305 h1 V334 h-1zM1002 309 h3 V328 h-3zM1007 318 h1 V336 h-1zM1006 323 h3 V326 h-3zM1011 286 h1 V323 h-1zM1010 292 h3 V323 h-3zM1015 278 h1 V294 h-1zM1014 279 h3 V290 h-3zM1019 261 h1 V279 h-1zM1018 264 h3 V277 h-3zM1023 256 h1 V265 h-1zM1022 264 h3 v1 h-3zM1027 242 h1 V255 h-1zM1026 242 h3 V249 h-3zM1031 238 h1 V248 h-1zM1030 240 h3 V248 h-3zM1036 199 h1 V245 h-1zM1035 213 h3 V240 h-3zM1040 205 h1 V212 h-1zM1039 208 h3 V212 h-3zM1044 203 h1 V212 h-1zM1043 207 h3 V210 h-3zM1048 209 h1 V214 h-1zM1047 211 h3 v1 h-3zM1052 192 h1 V202 h-1zM1051 195 h3 V202 h-3zM1056 182 h1 V195 h-1zM1055 184 h3 V194 h-3zM1060 182 h1 V184 h-1zM1059 183 h3 v1 h-3zM0 652 h1 V670 h-1zM2 657 h1 V663 h-1zM1 663 h3 V670 h-3zM6 667 h1 V670 h-1z"/>
<path fill="#3b8bea" d="M154 646 h1 V665 h-1zM158 617 h1 V643 h-1zM166 626 h1 V631 h-1zM170 601 h1 V623 h-1zM175 582 h1 V597 h-1zM179 569 h1 V578 h-1zM183 562 h1 V565 h-1zM203 569 h1 V601 h-1zM216 518 h1 V537 h-1zM220 508 h1 V525 h-1zM224 497 h1 V518 h-1zM228 371 h1 V511 h-1zM248 404 h1 V448 h-1zM252 387 h1 V401 h-1zM257 377 h1 V384 h-1zM269 385 h1 V389 h-1zM273 368 h1 V381 h-1zM318 429 h1 V441 h-1zM322 399 h1 V427 h-1zM334 391 h1 V401 h-1zM343 366 h1 V382 h-1zM351 365 h1 V379 h-1zM359 385 h1 V392 h-1zM371 394 h1 V403 h-1zM380 389 h1 V401 h-1zM396 387 h1 V400 h-1zM400 380 h1 V383 h-1zM425 397 h1 V405 h-1zM433 391 h1 V404 h-1zM445 393 h1 V401 h-1zM453 392 h1 V394 h-1zM462 381 h1 V389 h-1zM470 359 h1 V375 h-1zM482 378 h1 V380 h-1zM498 355 h1 V357 h-1zM503 342 h1 V353 h-1zM507 337 h1 V339 h-1zM527 342 h1 V351 h-1zM564 348 h1 V351 h-1zM568 342 h1 V346 h-1zM576 333 h1 V338 h-1zM580 327 h1 V329 h-1zM593 326 h1 V354 h-1zM597 307 h1 V323 h-1zM609 316 h1 V331 h-1zM621 315 h1 V316 h-1zM650 343 h1 V345 h-1zM671 357 h1 V358 h-1zM687 359 h1 V366 h-1zM691 348 h1 V357 h-1zM699 349 h1 V354 h-1zM720 359 h1 V360 h-1zM724 353 h1 V355 h-1zM732 356 h1 V358 h-1zM749 347 h1 V354 h-1zM753 342 h1 V345 h-1zM761 334 h1 V336 h-1zM765 315 h1 V330 h-1zM790 333 h1 V334 h-1zM798 350 h1 V360 h-1zM826 389 h1 V397 h-1zM839 363 h1 V378 h-1zM843 356 h1 V359 h-1zM863 337 h1 V364 h-1zM867 331 h1 V334 h-1zM872 317 h1 V327 h-1zM876 308 h1 V313 h-1zM888 266 h1 V311 h-1zM896 270 h1 V273 h-1zM900 265 h1 V267 h-1zM908 255 h1 V267 h-1zM913 241 h1 V252 h-1zM921 235 h1 V239 h-1zM937 237 h1 V248 h-1zM958 289 h1 V302 h-1zM970 338 h1 V367 h-1zM974 326 h1 V333 h-1zM986 330 h1 V354 h-1zM990 324 h1 V325 h-1zM995 316 h1 V320 h-1zM1007 324 h1 V325 h-1zM1011 293 h1 V322 h-1zM1015 280 h1 V289 h-1zM1019 265 h1 V276 h-1zM1031 241 h1 V247 h-1zM1036 214 h1 V239 h-1zM1040 209 h1 V211 h-1zM1052 196 h1 V201 h-1zM1056 185 h1 V193 h-1z"/>
<path fill="#fff" d="M142 640 h1 V669 h-1zM162 617 h1 V632 h-1zM195 567 h1 V575 h-1zM199 579 h1 V601 h-1zM207 569 h1 V570 h-1zM232 371 h1 V393 h-1zM236 396 h1 V424 h-1zM240 431 h1 V437 h-1zM244 437 h1 V439 h-1zM289 367 h1 V377 h-1zM293 378 h1 V383 h-1zM302 386 h1 V412 h-1zM306 415 h1 V432 h-1zM314 429 h1 V441 h-1zM326 399 h1 V401 h-1zM339 379 h1 V382 h-1zM347 365 h1 V379 h-1zM355 365 h1 V394 h-1zM363 388 h1 V401 h-1zM375 394 h1 V401 h-1zM388 396 h1 V397 h-1zM408 380 h1 V393 h-1zM421 402 h1 V407 h-1zM429 397 h1 V404 h-1zM449 393 h1 V395 h-1zM466 378 h1 V379 h-1zM474 359 h1 V375 h-1zM515 327 h1 V349 h-1zM519 351 h1 V352 h-1zM535 344 h1 V346 h-1zM544 341 h1 V346 h-1zM552 346 h1 V351 h-1zM585 326 h1 V338 h-1zM589 339 h1 V355 h-1zM601 307 h1 V336 h-1zM626 314 h1 V318 h-1zM634 330 h1 V332 h-1zM646 335 h1 V345 h-1zM667 349 h1 V360 h-1zM679 357 h1 V370 h-1zM695 348 h1 V354 h-1zM712 353 h1 V357 h-1zM716 359 h1 V360 h-1zM773 317 h1 V328 h-1zM777 333 h1 V335 h-1zM794 330 h1 V360 h-1zM810 344 h1 V347 h-1zM814 351 h1 V381 h-1zM818 385 h1 V390 h-1zM822 394 h1 V398 h-1zM835 371 h1 V378 h-1zM847 356 h1 V363 h-1zM851 366 h1 V368 h-1zM855 366 h1 V367 h-1zM880 312 h1 V317 h-1zM884 314 h1 V315 h-1zM892 266 h1 V273 h-1zM945 234 h1 V245 h-1zM954 263 h1 V303 h-1zM962 287 h1 V356 h-1zM978 319 h1 V339 h-1zM982 343 h1 V352 h-1zM1003 310 h1 V327 h-1zM1027 243 h1 V248 h-1zM1044 208 h1 V209 h-1zM2 664 h1 V670 h-1z"/>
</g>
<polyline fill="none" stroke="#e4c210" stroke-width="1" points="0,539.3 22,570.5 33.8,592 47,620 58.8,640.6 75,670"/>
<polyline fill="none" stroke="#e4c210" stroke-width="1" points="191.7,670 200,664 208.8,656.8 216,651.6 225,640.6 232.4,624.4 244,601 256,581.8 265,569.7 290,529.5 305.9,513.2 325,497 338.2,488.2 347,479.4 358.8,469 376.5,460.3 388.2,453 400,446.3 440,432 461.4,425.6 496,410 507.8,404 521,397 535.7,389.7 550.4,385.3 565,380 584,373.5 596,369 606.7,365.7 621.4,359.9 636,355.4 650.8,353.5 665.5,352.5 680,354.7 695,354 709.6,353.2 724.4,354 739,354.4 753.8,353.2 768.5,349.6 783,347.8 792,347 810,347.8 822.8,351.5 839.3,355 859.5,356.4 868.7,355 885.3,349.6 896.3,343.2 906,335 914,330 935,314 953.5,304.4 961,304.4 970,309.4 983,311.2 1000,314 1008.7,313.9 1021.5,310.2 1034.4,304.7 1043.6,298.3 1051,289 1061.8,280.4"/>
<g shape-rendering="crispEdges" fill="#000" fill-opacity="0.52">
<path d="M-2 627 h3 V670 h-3zM1 623 h3 V670 h-3zM5 614 h3 V670 h-3zM10 658 h3 V670 h-3zM22 609 h3 V670 h-3zM26 603 h3 V670 h-3zM30 572 h3 V670 h-3zM34 651 h3 V670 h-3zM46 619 h3 V670 h-3zM51 617 h3 V670 h-3zM55 596 h3 V670 h-3zM59 656 h3 V670 h-3zM71 621 h3 V670 h-3zM75 625 h3 V670 h-3zM79 604 h3 V670 h-3zM83 656 h3 V670 h-3zM100 627 h3 V670 h-3zM104 642 h3 V670 h-3zM108 625 h3 V670 h-3zM112 663 h3 V670 h-3zM120 668 h3 V670 h-3zM124 626 h3 V670 h-3zM128 638 h3 V670 h-3zM133 629 h3 V670 h-3zM137 664 h3 V670 h-3zM145 667 h3 V670 h-3zM149 607 h3 V670 h-3zM153 633 h3 V670 h-3zM157 640 h3 V670 h-3zM161 664 h3 V670 h-3zM174 636 h3 V670 h-3zM178 643 h3 V670 h-3zM182 631 h3 V670 h-3zM186 665 h3 V670 h-3zM198 637 h3 V670 h-3zM202 641 h3 V670 h-3zM206 633 h3 V670 h-3zM210 667 h3 V670 h-3zM223 630 h3 V670 h-3zM227 579 h3 V670 h-3zM231 610 h3 V670 h-3zM235 661 h3 V670 h-3zM247 622 h3 V670 h-3zM251 635 h3 V670 h-3zM256 609 h3 V670 h-3zM260 665 h3 V670 h-3zM272 631 h3 V670 h-3zM276 645 h3 V670 h-3zM280 639 h3 V670 h-3zM284 666 h3 V670 h-3zM297 636 h3 V670 h-3zM301 645 h3 V670 h-3zM305 639 h3 V670 h-3zM309 661 h3 V670 h-3zM321 647 h3 V670 h-3zM325 640 h3 V670 h-3zM329 638 h3 V670 h-3zM333 663 h3 V670 h-3zM346 642 h3 V670 h-3zM350 634 h3 V670 h-3zM354 634 h3 V670 h-3zM358 665 h3 V670 h-3zM370 649 h3 V670 h-3zM374 645 h3 V670 h-3zM379 640 h3 V670 h-3zM383 666 h3 V670 h-3zM395 648 h3 V670 h-3zM399 645 h3 V670 h-3zM403 644 h3 V670 h-3zM407 662 h3 V670 h-3zM420 645 h3 V670 h-3zM424 648 h3 V670 h-3zM428 640 h3 V670 h-3zM432 666 h3 V670 h-3zM444 647 h3 V670 h-3zM448 639 h3 V670 h-3zM452 640 h3 V670 h-3zM456 667 h3 V670 h-3zM469 635 h3 V670 h-3zM473 643 h3 V670 h-3zM477 636 h3 V670 h-3zM481 665 h3 V670 h-3zM493 642 h3 V670 h-3zM497 646 h3 V670 h-3zM502 639 h3 V670 h-3zM506 666 h3 V670 h-3zM518 641 h3 V670 h-3zM522 650 h3 V670 h-3zM526 644 h3 V670 h-3zM530 666 h3 V670 h-3zM543 649 h3 V670 h-3zM547 658 h3 V670 h-3zM551 652 h3 V670 h-3zM567 647 h3 V670 h-3zM571 650 h3 V670 h-3zM575 640 h3 V670 h-3zM592 629 h3 V670 h-3zM596 631 h3 V670 h-3zM600 609 h3 V670 h-3zM604 664 h3 V670 h-3zM612 667 h3 V670 h-3zM616 628 h3 V670 h-3zM620 646 h3 V670 h-3zM625 633 h3 V670 h-3zM629 667 h3 V670 h-3zM641 638 h3 V670 h-3zM645 645 h3 V670 h-3zM649 640 h3 V670 h-3zM653 668 h3 V670 h-3zM666 638 h3 V670 h-3zM670 650 h3 V670 h-3zM674 647 h3 V670 h-3zM678 665 h3 V670 h-3zM690 634 h3 V670 h-3zM694 647 h3 V670 h-3zM698 646 h3 V670 h-3zM702 668 h3 V670 h-3zM715 630 h3 V670 h-3zM719 649 h3 V670 h-3zM723 645 h3 V670 h-3zM727 665 h3 V670 h-3zM739 648 h3 V670 h-3zM743 642 h3 V670 h-3zM748 640 h3 V670 h-3zM752 666 h3 V670 h-3zM764 623 h3 V670 h-3zM768 650 h3 V670 h-3zM772 639 h3 V670 h-3zM776 658 h3 V670 h-3zM789 645 h3 V670 h-3zM793 639 h3 V670 h-3zM797 630 h3 V670 h-3zM801 666 h3 V670 h-3zM813 633 h3 V670 h-3zM817 621 h3 V670 h-3zM821 635 h3 V670 h-3zM825 665 h3 V670 h-3zM838 638 h3 V670 h-3zM842 648 h3 V670 h-3zM846 640 h3 V670 h-3zM850 664 h3 V670 h-3zM862 639 h3 V670 h-3zM866 652 h3 V670 h-3zM871 639 h3 V670 h-3zM875 664 h3 V670 h-3zM887 629 h3 V670 h-3zM891 649 h3 V670 h-3zM895 645 h3 V670 h-3zM899 666 h3 V670 h-3zM912 646 h3 V670 h-3zM916 661 h3 V670 h-3zM920 654 h3 V670 h-3zM936 643 h3 V670 h-3zM940 642 h3 V670 h-3zM944 644 h3 V670 h-3zM948 665 h3 V670 h-3zM961 636 h3 V670 h-3zM965 629 h3 V670 h-3zM969 642 h3 V670 h-3zM973 666 h3 V670 h-3zM985 646 h3 V670 h-3zM989 659 h3 V670 h-3zM994 655 h3 V670 h-3zM1010 658 h3 V670 h-3zM1014 662 h3 V670 h-3zM1018 652 h3 V670 h-3zM1035 653 h3 V670 h-3zM1039 664 h3 V670 h-3zM1043 660 h3 V670 h-3zM14 669 h3 v1 h-3zM18 669 h3 v1 h-3zM38 669 h3 v1 h-3zM42 669 h3 v1 h-3zM63 669 h3 v1 h-3zM67 669 h3 v1 h-3zM87 669 h3 v1 h-3zM92 669 h3 v1 h-3zM96 669 h3 v1 h-3zM116 669 h3 v1 h-3zM141 669 h3 v1 h-3zM165 669 h3 v1 h-3zM169 669 h3 v1 h-3zM190 669 h3 v1 h-3zM194 669 h3 v1 h-3zM215 669 h3 v1 h-3zM219 669 h3 v1 h-3zM239 669 h3 v1 h-3zM243 669 h3 v1 h-3zM264 669 h3 v1 h-3zM268 669 h3 v1 h-3zM288 669 h3 v1 h-3zM292 669 h3 v1 h-3zM313 669 h3 v1 h-3zM317 669 h3 v1 h-3zM338 669 h3 v1 h-3zM342 669 h3 v1 h-3zM362 669 h3 v1 h-3zM366 669 h3 v1 h-3zM387 669 h3 v1 h-3zM391 669 h3 v1 h-3zM411 669 h3 v1 h-3zM415 669 h3 v1 h-3zM436 669 h3 v1 h-3zM440 669 h3 v1 h-3zM461 669 h3 v1 h-3zM465 669 h3 v1 h-3zM485 669 h3 v1 h-3zM489 669 h3 v1 h-3zM510 669 h3 v1 h-3zM514 669 h3 v1 h-3zM534 669 h3 v1 h-3zM538 669 h3 v1 h-3zM555 669 h3 v1 h-3zM559 669 h3 v1 h-3zM563 669 h3 v1 h-3zM579 669 h3 v1 h-3zM584 669 h3 v1 h-3zM588 669 h3 v1 h-3zM608 669 h3 v1 h-3zM633 669 h3 v1 h-3zM637 669 h3 v1 h-3zM657 669 h3 v1 h-3zM661 669 h3 v1 h-3zM682 669 h3 v1 h-3zM686 669 h3 v1 h-3zM707 669 h3 v1 h-3zM711 669 h3 v1 h-3zM731 669 h3 v1 h-3zM735 669 h3 v1 h-3zM756 669 h3 v1 h-3zM760 669 h3 v1 h-3zM780 669 h3 v1 h-3zM784 669 h3 v1 h-3zM805 669 h3 v1 h-3zM809 669 h3 v1 h-3zM830 669 h3 v1 h-3zM834 669 h3 v1 h-3zM854 669 h3 v1 h-3zM858 669 h3 v1 h-3zM879 669 h3 v1 h-3zM883 669 h3 v1 h-3zM903 669 h3 v1 h-3zM907 669 h3 v1 h-3zM924 669 h3 v1 h-3zM928 669 h3 v1 h-3zM932 669 h3 v1 h-3zM953 669 h3 v1 h-3zM957 669 h3 v1 h-3zM977 669 h3 v1 h-3zM981 669 h3 v1 h-3zM998 669 h3 v1 h-3zM1002 669 h3 v1 h-3zM1006 669 h3 v1 h-3zM1022 669 h3 v1 h-3zM1026 669 h3 v1 h-3zM1030 669 h3 v1 h-3zM1047 669 h3 v1 h-3zM1051 669 h3 v1 h-3zM1055 669 h3 v1 h-3zM1059 669 h3 v1 h-3z"/>
</g>
</g>
<g fill="none" stroke="#dc143c" stroke-width="1.9" stroke-linecap="round" stroke-linejoin="round">
<path d="M1065.8 190.2 L1102.6 242.6"/>
<path d="M1106.4 248.4 L1087.9 238 L1102.6 242.6 L1104 227.9 Z"/>
<path d="M1119.6 239.2 L1161.6 135.8"/>
<path d="M1164.3 126.8 L1148.8 141 L1161.6 135.8 L1166.6 147.2 Z"/>
</g>
<rect x="0" y="175.4" width="1300" height="6.1" fill="#368fa8"/>
<rect x="242" y="175" width="2" height="7" fill="#c0c0c0" opacity="0.75" shape-rendering="crispEdges"/>
<g stroke="#d2691e" stroke-width="2" stroke-linecap="butt">
<line x1="206.4" y1="359.8" x2="1094.6" y2="172.8"/>
<line x1="197" y1="477.5" x2="1164.5" y2="238.6"/>
<line x1="197" y1="532.5" x2="1115.4" y2="337.8"/>
</g>
<g shape-rendering="crispEdges">
<rect x="0" y="340" width="1300" height="1" fill="#7ba2f0"/>
<rect x="0" y="435" width="1300" height="1" fill="#7ba2f0"/>
<rect x="187" y="358" width="1113" height="1" fill="#ff1a1a"/>
<rect x="1062" y="183" width="238" height="1" fill="#dcdcdc"/>
</g>
<line x1="936.5" y1="21" x2="936.5" y2="670" stroke="#ff0000" stroke-width="1" stroke-dasharray="4 2" shape-rendering="crispEdges"/>
<g shape-rendering="crispEdges">
<rect x="0" y="670" width="1301" height="1" fill="#222"/>
<rect x="1301" y="21" width="1" height="669" fill="#222"/>
<rect x="0" y="689" width="1366" height="1" fill="#444"/>
<rect x="1365" y="21" width="1" height="669" fill="#9a9a9a"/>
<rect x="1302" y="33" width="2" height="1" fill="#222"/>
<rect x="1302" y="89" width="2" height="1" fill="#222"/>
<rect x="1302" y="145" width="2" height="1" fill="#222"/>
<rect x="1302" y="201" width="2" height="1" fill="#222"/>
<rect x="1302" y="257" width="2" height="1" fill="#222"/>
<rect x="1302" y="313" width="2" height="1" fill="#222"/>
<rect x="1302" y="369" width="2" height="1" fill="#222"/>
<rect x="1302" y="425" width="2" height="1" fill="#222"/>
<rect x="1302" y="481" width="2" height="1" fill="#222"/>
<rect x="1302" y="537" width="2" height="1" fill="#222"/>
<rect x="1302" y="593" width="2" height="1" fill="#222"/>
<rect x="1302" y="649" width="2" height="1" fill="#222"/>
</g>
<g font-family="'Liberation Sans', Arial, sans-serif" font-size="12" fill="#111">
<text x="1307.5" y="37.2">14400</text>
<text x="1307.5" y="93.2">14200</text>
<text x="1307.5" y="149.1">14000</text>
<text x="1307.5" y="205.1">13800</text>
<text x="1307.5" y="261.1">13600</text>
<text x="1307.5" y="317.1">13400</text>
<text x="1307.5" y="373">13200</text>
<text x="1307.5" y="429">13000</text>
<text x="1307.5" y="485">12800</text>
<text x="1307.5" y="540.9">12600</text>
<text x="1307.5" y="596.9">12400</text>
<text x="1307.5" y="652.9">12200</text>
</g>
<rect x="1303" y="173" width="62" height="21" rx="2" fill="#d0d0d0"/>
<text x="1304.5" y="189.2" font-family="'Liberation Sans', Arial, sans-serif" font-size="14" fill="#111">13868</text>
<g font-family="'Liberation Sans', Arial, sans-serif" font-size="16" text-anchor="end">
<text x="1279.3" y="337.6" fill="#86abf0" textLength="33.8" lengthAdjust="spacing">VAH</text>
<text x="1278.5" y="356" fill="#f04848">POC</text>
<text x="1279.3" y="432.8" fill="#86abf0" textLength="30.6" lengthAdjust="spacing">VAL</text>
</g>
<text x="256.6" y="168.8" font-family="'Liberation Sans', Arial, sans-serif" font-size="12" fill="#3d97bf">13885,5</text>
<g font-family="'Liberation Sans', Arial, sans-serif" font-size="12" fill="#111">
<text x="7.3" y="482.8">MACD_1</text>
<text x="8" y="582.9">Total Volume_1</text>
</g>
<text transform="translate(231.6 28.6) rotate(90)" font-family="'Liberation Sans', Arial, sans-serif" font-size="12" font-weight="bold" fill="#000" textLength="96" lengthAdjust="spacingAndGlyphs">Volume Profile_1</text>
<text transform="translate(922.8 29.6) rotate(90)" font-family="'Liberation Sans', Arial, sans-serif" font-size="12" fill="#ff0000" textLength="81" lengthAdjust="spacingAndGlyphs">Contract 03-21</text>
<g font-family="'Liberation Sans', Arial, sans-serif" font-size="12" fill="#111">
<text x="17.8" y="683.6">16:00</text>
<text x="58.8" y="683.6">08:00</text>
<text x="99.7" y="683.6">00:00</text>
<text x="140.7" y="683.6">12:00</text>
<text x="181.6" y="683.6">04:00</text>
<text x="222.6" y="683.6">20:00</text>
<text x="263.5" y="683.6">12:00</text>
<text x="304.5" y="683.6">04:00</text>
<text x="345.4" y="683.6">20:00</text>
<text x="386.4" y="683.6">12:00</text>
<text x="427.3" y="683.6">04:00</text>
<text x="468.3" y="683.6">20:00</text>
<text x="509.2" y="683.6">12:00</text>
<text x="550.1" y="683.6">04:00</text>
<text x="591.1" y="683.6">20:00</text>
<text x="632" y="683.6">12:00</text>
<text x="673" y="683.6">04:00</text>
<text x="714" y="683.6">20:00</text>
<text x="754.9" y="683.6">12:00</text>
<text x="795.9" y="683.6">04:00</text>
<text x="836.8" y="683.6">20:00</text>
<text x="877.8" y="683.6">12:00</text>
<text x="918.7" y="683.6">04:00</text>
<text x="959.6" y="683.6">20:00</text>
<text x="1000.6" y="683.6">12:00</text>
</g>
<g font-family="'Liberation Sans', Arial, sans-serif" font-size="14" fill="#ee82ee" text-anchor="middle">
<rect x="69.5" y="671.5" width="46" height="16" fill="#f4f4f4" stroke="#333" stroke-width="1" shape-rendering="crispEdges"/>
<text x="92" y="683">01.11</text>
<rect x="192.5" y="671.5" width="46" height="16" fill="#f4f4f4" stroke="#333" stroke-width="1" shape-rendering="crispEdges"/>
<text x="215" y="683">08.11</text>
<rect x="315.5" y="671.5" width="46" height="16" fill="#f4f4f4" stroke="#333" stroke-width="1" shape-rendering="crispEdges"/>
<text x="338" y="683">15.11</text>
<rect x="438.5" y="671.5" width="46" height="16" fill="#f4f4f4" stroke="#333" stroke-width="1" shape-rendering="crispEdges"/>
<text x="461" y="683">22.11</text>
<rect x="561.5" y="671.5" width="46" height="16" fill="#f4f4f4" stroke="#333" stroke-width="1" shape-rendering="crispEdges"/>
<text x="584" y="683">29.11</text>
<rect x="684.5" y="671.5" width="46" height="16" fill="#f4f4f4" stroke="#333" stroke-width="1" shape-rendering="crispEdges"/>
<text x="707" y="683">06.12</text>
<rect x="807.5" y="671.5" width="46" height="16" fill="#f4f4f4" stroke="#333" stroke-width="1" shape-rendering="crispEdges"/>
<text x="830" y="683">13.12</text>
<rect x="930.5" y="671.5" width="46" height="16" fill="#f4f4f4" stroke="#333" stroke-width="1" shape-rendering="crispEdges"/>
<text x="953" y="683">20.12</text>
<rect x="1003.5" y="671.5" width="46" height="16" fill="#f4f4f4" stroke="#333" stroke-width="1" shape-rendering="crispEdges"/>
<text x="1026" y="683">27.12</text>
</g>
<g>
<g stroke="#a8a8a8" stroke-width="1" fill="#a8a8a8"><line x1="1284.5" y1="696" x2="1284.5" y2="707"/><path d="M1284.5 693.8 l3.2 3.6 h-6.4z" stroke="none"/><path d="M1284.5 708.5 l3.2 -3.6 h-6.4z" stroke="none"/></g>
<g fill="#00be00" stroke="#00be00" stroke-width="2.2"><path d="M1297 694 h5 l-5 5z" stroke="none"/><line x1="1298.5" y1="695.5" x2="1302.2" y2="699.2"/><path d="M1310.4 694 h-5 l5 5z" stroke="none"/><line x1="1309" y1="695.5" x2="1305.2" y2="699.2"/><path d="M1297 708 v-5 l5 5z" stroke="none"/><line x1="1298.5" y1="706.5" x2="1302.2" y2="702.8"/><path d="M1310.4 708 v-5 l-5 5z" stroke="none"/><line x1="1309" y1="706.5" x2="1305.2" y2="702.8"/></g>
<g fill="#999"><rect x="1319.2" y="693" width="3.5" height="14"/><path d="M1325.2 700.5 l7 -5.3 v3.6 h7.8 v3.5 h-7.8 v3.6z"/><path d="M1357.8 700.5 l-7 -5.3 v3.6 h-7.8 v3.5 h7.8 v3.6z"/><rect x="1360.3" y="693" width="3.5" height="14"/></g>
</g>
</svg>
<div id="tb">
<span style="left:17.5px">DAX</span><b style="left:62px"></b><i style="left:74px"></i>
<span style="left:80px">Auto</span><b style="left:128px"></b><i style="left:138px"></i>
<span style="left:145px">4 часа</span><b style="left:203px"></b><i style="left:214px"></i>
<span style="left:231px">16.06.2020</span><svg style="position:absolute;left:308px;top:4px" width="11" height="13" viewBox="0 0 11 13"><rect x="0.5" y="2.5" width="10" height="10" fill="none" stroke="#555" stroke-width="1"/><line x1="0.5" y1="5" x2="10.5" y2="5" stroke="#555" stroke-width="1"/><rect x="2.5" y="0" width="1" height="4" fill="#555"/><rect x="5" y="0" width="1" height="4" fill="#555"/><rect x="7.5" y="0" width="1" height="4" fill="#555"/><text x="5.5" y="11.3" font-size="6.5" font-family="'Liberation Sans',Arial,sans-serif" font-weight="bold" fill="#555" text-anchor="middle">7</text></svg>
<span style="left:323px;width:24px;height:19px;border:1px solid #aaa;border-top:none;box-sizing:content-box;background:#f8f8f8"></span>
<span style="left:329.5px;font-size:10px;line-height:22px">&gt;</span><span style="left:341px;font-size:10px;line-height:22px">&lt;</span>
<span style="left:365.5px">29.12.2020</span><svg style="position:absolute;left:442px;top:4px" width="11" height="13" viewBox="0 0 11 13"><rect x="0.5" y="2.5" width="10" height="10" fill="none" stroke="#555" stroke-width="1"/><line x1="0.5" y1="5" x2="10.5" y2="5" stroke="#555" stroke-width="1"/><rect x="2.5" y="0" width="1" height="4" fill="#555"/><rect x="5" y="0" width="1" height="4" fill="#555"/><rect x="7.5" y="0" width="1" height="4" fill="#555"/><text x="5.5" y="11.3" font-size="6.5" font-family="'Liberation Sans',Arial,sans-serif" font-weight="bold" fill="#555" text-anchor="middle">7</text></svg>
<i style="left:458px"></i>
<span style="left:495.5px">Свечи</span><b style="left:571px"></b><i style="left:582px"></i>
<span style="left:629px">0.5</span>
<b style="left:657px;top:4px;border-top:none;border-bottom:4px solid #777"></b><b style="left:657px;top:13px;border-top:4px solid #777"></b>
<i style="left:668px"></i>
<span style="left:669px;width:85px;background:#e8e8e8;border-right:1px solid #b8b8b8"></span>
<span style="left:673.5px">Инструменты</span>
<span style="left:765.5px">Скрыть рис.</span>
<span style="left:844px">Скрыть линии</span>
<span class="btn" style="left:1166px;width:23px">-7</span>
<span class="btn" style="left:1190px;width:24px">+7</span>
<span class="btn" style="left:1215px;width:24px">T</span>
<span class="btn" style="left:1240px;width:24px">-1</span>
<span class="btn" style="left:1265px;width:24px">+1</span>
<span style="left:1290.5px;width:75.5px;height:20px;background:#2fab3b;color:#fff;text-align:center;font-size:12.5px">Применить</span>
</div>
<div id="tabs"><div class="t1">DAX 4 часа</div><div class="t2">+</div></div>
</body></html>
